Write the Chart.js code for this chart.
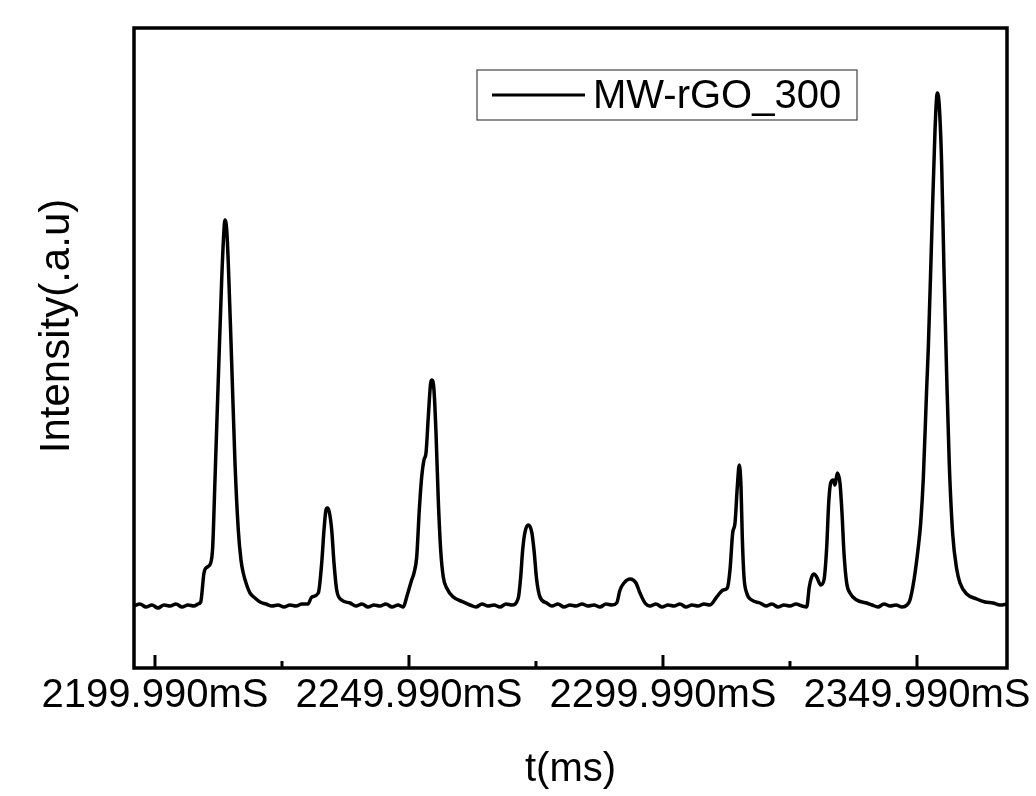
<!DOCTYPE html>
<html>
<head>
<meta charset="utf-8">
<title>MW-rGO_300</title>
<script src="https://cdn.jsdelivr.net/npm/chart.js@4.4.1/dist/chart.umd.min.js"></script>
<style>
  html, body { margin: 0; padding: 0; background: #fff; }
  #wrap { width: 1036px; height: 796px; }
</style>
</head>
<body>
<div id="wrap"><canvas id="trace" width="1036" height="796"></canvas></div>
<script>
const timeMs = [
  2195.86, 2197.04, 2198.22, 2199.40, 2200.58, 2201.76, 2202.95, 2204.13, 2205.31, 2206.49, 2207.67, 2208.46,
  2208.99, 2209.64, 2210.29, 2210.96, 2211.35, 2211.80, 2212.45, 2213.12, 2213.57, 2213.77, 2214.11, 2214.42,
  2215.09, 2215.74, 2216.39, 2216.92, 2217.37, 2218.04, 2218.69, 2219.68, 2220.66,
  2221.84, 2223.02, 2224.20, 2225.39, 2226.57, 2227.75, 2228.93, 2230.11,
  2230.84, 2232.14, 2232.81, 2233.26, 2233.65, 2233.91, 2234.30, 2234.78, 2235.23, 2235.76, 2236.74, 2238.38,
  2239.56, 2240.74, 2241.92, 2243.10, 2244.28, 2245.46, 2246.65, 2247.83,
  2248.87, 2249.54, 2250.52, 2250.98, 2251.51, 2252.02, 2252.49, 2252.94, 2253.34, 2253.79, 2254.26, 2254.52,
  2254.91, 2255.31, 2255.76, 2256.23, 2256.74, 2257.41, 2258.71, 2260.68,
  2262.00, 2263.18, 2264.36, 2265.54, 2266.72, 2267.91, 2269.09, 2270.27,
  2271.51, 2271.98, 2272.37, 2272.83, 2273.48, 2274.15, 2274.60, 2275.13, 2275.78, 2277.10,
  2278.14, 2279.32, 2280.50, 2281.69, 2282.87, 2284.05, 2285.23, 2286.41, 2287.59, 2288.77, 2289.95,
  2290.88, 2291.53, 2292.31, 2293.50, 2294.68, 2295.46, 2296.45,
  2297.43, 2298.61, 2299.80, 2300.98, 2302.16, 2303.34, 2304.52, 2305.70, 2306.88, 2308.06, 2309.24,
  2310.56, 2311.86, 2312.65, 2313.18, 2313.71, 2314.17, 2314.62, 2315.01, 2315.35, 2315.60, 2315.94, 2316.47,
  2317.45, 2319.09,
  2320.27, 2321.45, 2322.63, 2323.81, 2324.99, 2326.17, 2327.35,
  2328.28, 2328.79, 2329.26, 2329.72, 2330.25, 2331.04, 2331.68, 2332.22, 2332.61, 2333.00, 2333.52, 2333.85,
  2334.30, 2334.83, 2335.23, 2335.62, 2336.15, 2336.80, 2338.12, 2340.09,
  2341.13, 2342.31, 2343.50, 2344.68, 2345.86, 2347.04, 2348.02,
  2348.61, 2349.40, 2350.25, 2350.72, 2351.24, 2351.90, 2352.22, 2352.89, 2353.54, 2353.99, 2354.38, 2354.85,
  2355.31, 2355.84, 2356.35, 2357.02, 2357.81, 2358.46, 2359.78, 2361.74, 2363.38, 2364.95, 2366.33, 2367.71
];
const intensity = [
  62, 64, 61, 63, 60, 63, 62, 64, 61, 63, 62, 64,
  66, 95, 101, 105, 121, 188, 288, 388, 438, 448, 438, 405,
  305, 205, 138, 108, 95, 83, 75, 70, 66,
  64, 62, 63, 61, 63, 62, 64, 64,
  71, 75, 105, 138, 158, 160, 156, 138, 105, 78, 68, 65,
  62, 64, 61, 63, 62, 64, 61, 63,
  61, 71, 88, 95, 111, 158, 191, 208, 215, 251, 285, 288,
  278, 235, 168, 118, 91, 80, 71, 66,
  63, 61, 64, 62, 63, 61, 64, 63,
  70, 91, 118, 136, 143, 136, 118, 88, 71, 65,
  62, 64, 61, 63, 62, 64, 62, 63, 61, 64, 63,
  65, 78, 85, 89, 85, 75, 65,
  62, 64, 61, 63, 62, 64, 61, 63, 62, 64, 63,
  71, 78, 80, 98, 135, 145, 181, 203, 181, 131, 91, 75,
  68, 65,
  62, 64, 61, 63, 62, 64, 62,
  61, 81, 91, 94, 91, 83, 88, 121, 165, 185, 188, 183,
  195, 185, 155, 115, 85, 75, 68, 65,
  63, 61, 64, 62, 63, 61, 63,
  68, 88, 121, 145, 190, 280, 320, 432, 538, 575, 562, 503,
  397, 292, 204, 134, 99, 85, 74, 69, 66, 65, 63, 64
];

// axis range and tick positions
const xMin = 2195.86;
const xMax = 2367.71;
const tickValues = [2199.99, 2224.99, 2249.99, 2274.99, 2299.99, 2324.99, 2349.99];
const majorTicks = [2199.99, 2249.99, 2299.99, 2349.99];

const FONT = '"Liberation Sans", Arial, Helvetica, sans-serif';

// box frame, inward ticks, y title and legend
const framePlugin = {
  id: 'framePlugin',
  afterDatasetsDraw(chart) {
    const { ctx, chartArea: a, scales: { x } } = chart;
    ctx.save();
    ctx.strokeStyle = '#000';
    ctx.lineWidth = 3.5;
    ctx.strokeRect(a.left, a.top, a.right - a.left, a.bottom - a.top);

    ctx.lineWidth = 3;
    tickValues.forEach(v => {
      const px = x.getPixelForValue(v);
      const len = majorTicks.includes(v) ? 13 : 7;
      ctx.beginPath();
      ctx.moveTo(px, a.bottom);
      ctx.lineTo(px, a.bottom - len);
      ctx.stroke();
    });

    // y axis title
    ctx.save();
    ctx.translate(57, 326);
    ctx.rotate(-Math.PI / 2);
    ctx.fillStyle = '#000';
    ctx.font = '42px ' + FONT;
    ctx.textAlign = 'center';
    ctx.textBaseline = 'middle';
    ctx.fillText('Intensity(.a.u)', 0, 0);
    ctx.restore();

    // legend
    const ds = chart.data.datasets[0];
    ctx.strokeStyle = '#444';
    ctx.lineWidth = 1.2;
    ctx.strokeRect(477, 70, 380, 50);
    ctx.strokeStyle = '#000';
    ctx.lineWidth = 3;
    ctx.beginPath();
    ctx.moveTo(492, 95);
    ctx.lineTo(585, 95);
    ctx.stroke();
    ctx.fillStyle = '#000';
    ctx.font = '40px ' + FONT;
    ctx.textAlign = 'left';
    ctx.textBaseline = 'middle';
    ctx.fillText(ds.label, 593, 97);
    ctx.restore();
  }
};

const ctx = document.getElementById('trace').getContext('2d');

new Chart(ctx, {
  type: 'line',
  data: {
    datasets: [{
      label: 'MW-rGO_300',
      data: timeMs.map((t, i) => ({ x: t, y: intensity[i] })),
      borderColor: '#000',
      borderWidth: 3.5,
      pointRadius: 0,
      cubicInterpolationMode: 'monotone',
      fill: false
    }]
  },
  options: {
    responsive: false,
    animation: false,
    devicePixelRatio: 1,
    layout: { padding: { top: 28, right: 29, left: 0, bottom: 0 } },
    plugins: {
      legend: { display: false },
      tooltip: { enabled: false }
    },
    scales: {
      x: {
        type: 'linear',
        min: xMin,
        max: xMax,
        grid: { display: false, drawTicks: false },
        border: { display: false },
        afterBuildTicks: scale => {
          scale.ticks = tickValues.map(v => ({ value: v }));
        },
        afterFit: scale => {
          scale.height = 128;
          scale.paddingLeft = 0;
          scale.paddingRight = 0;
        },
        ticks: {
          autoSkip: false,
          maxRotation: 0,
          padding: 4,
          color: '#000',
          font: { family: FONT, size: 40 },
          callback: value => majorTicks.includes(value) ? value.toFixed(3) + 'mS' : ''
        },
        title: {
          display: true,
          text: 't(ms)',
          color: '#000',
          font: { family: FONT, size: 40 },
          padding: { top: 0, bottom: 2 }
        }
      },
      y: {
        min: 0,
        max: 640,
        grid: { display: false, drawTicks: false },
        border: { display: false },
        ticks: { display: false },
        afterFit: scale => { scale.width = 134; }
      }
    }
  },
  plugins: [framePlugin]
});
</script>
</body>
</html>
